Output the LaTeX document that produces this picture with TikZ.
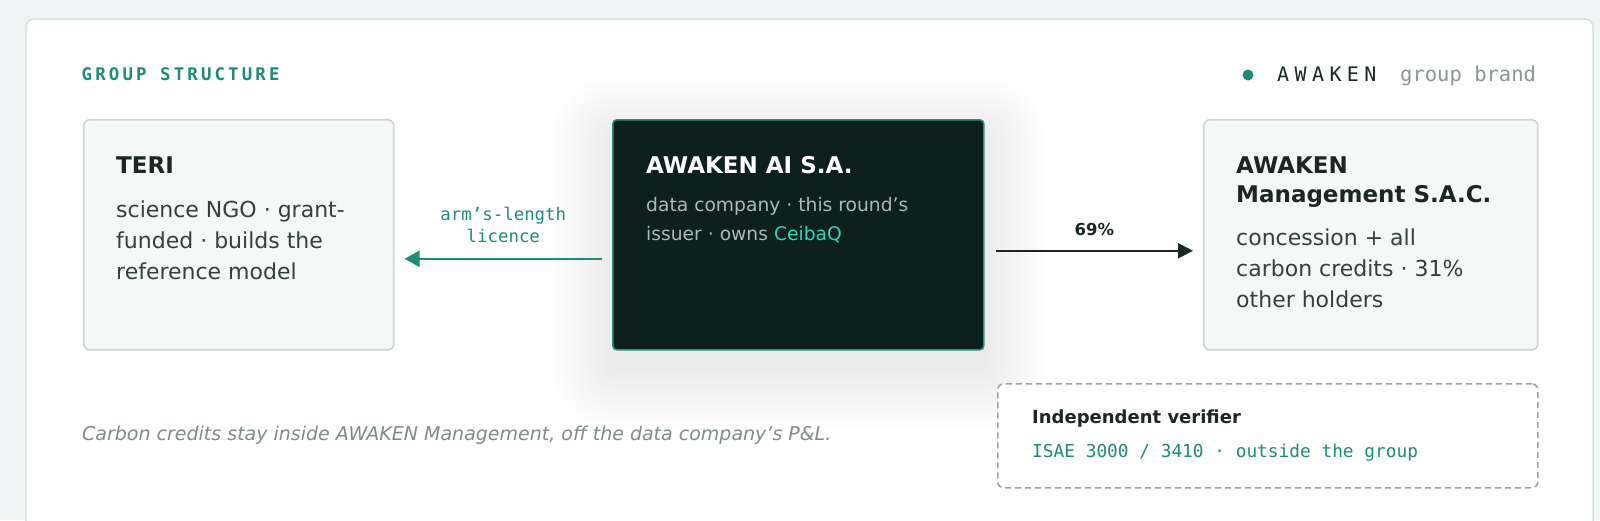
\documentclass[tikz,border=0pt]{standalone}
\usepackage{fontspec}
\setmainfont{DejaVu Sans}
\setmonofont{DejaVu Sans Mono}
\newfontfamily\headmono[LetterSpace=18]{DejaVu Sans Mono}
\newfontfamily\brandmono[LetterSpace=27]{DejaVu Sans Mono}
\usetikzlibrary{arrows.meta,positioning,calc,backgrounds}

\definecolor{pagebg}{HTML}{EFF5F4}
\definecolor{cardline}{HTML}{D7E0DE}
\definecolor{boxfill}{HTML}{F4F8F7}
\definecolor{boxline}{HTML}{CDD6D4}
\definecolor{corefill}{HTML}{0E201D}
\definecolor{coreline}{HTML}{2B8F7E}
\definecolor{grpteal}{HTML}{1F8A78}
\definecolor{inkdark}{HTML}{1B2725}
\definecolor{inkbody}{HTML}{33413E}
\definecolor{coresub}{HTML}{A7BCB7}
\definecolor{ceiba}{HTML}{2FD5B8}
\definecolor{mutegrey}{HTML}{8A9692}
\definecolor{capgrey}{HTML}{7D8C89}
\definecolor{dashgrey}{HTML}{A0A0A0}

\begin{document}
\begin{tikzpicture}[
    x=1pt, y=-1pt,
    card/.style={
        rectangle,
        draw=boxline,
        line width=1.6pt,
        fill=boxfill,
        rounded corners=6pt,
        anchor=north west,
        minimum height=230pt,
        inner sep=0pt
    },
    corecard/.style={
        card,
        draw=coreline,
        fill=corefill,
        rounded corners=4pt
    },
    verif/.style={
        card,
        draw=dashgrey,
        fill=white,
        dash pattern=on 6pt off 4pt,
        minimum height=104pt
    },
    title/.style={
        anchor=north west,
        inner sep=0pt,
        align=left,
        text=inkdark,
        font=\bfseries\fontsize{23}{28.5}\selectfont
    },
    body/.style={
        anchor=north west,
        inner sep=0pt,
        align=left,
        text=inkbody,
        font=\fontsize{22}{31}\selectfont
    },
    mono/.style={
        inner sep=0pt,
        text=grpteal,
        font=\ttfamily\fontsize{17.4}{22}\selectfont
    },
    pct/.style={
        inner sep=0pt,
        text=inkdark,
        font=\bfseries\fontsize{16.5}{20}\selectfont
    },
    licence/.style={
        draw=grpteal,
        line width=2.6pt,
        -{Triangle[length=15pt,width=16pt]}
    },
    owns/.style={
        draw=inkdark,
        line width=2.4pt,
        -{Triangle[length=15pt,width=15pt]}
    }
]
    \useasboundingbox (0,0) rectangle (1600,520);

    % Heading and brand key
    \node [anchor=base west, inner sep=0pt, text=grpteal, font=\headmono\bfseries\fontsize{17.4}{20}\selectfont] (heading) at (81.5,80) {GROUP STRUCTURE};
    \node [circle, fill=grpteal, minimum size=11pt, inner sep=0pt] (dot) at (1248,75) {};
    \node [anchor=base west, inner sep=0pt, text=inkdark, font=\brandmono\fontsize{20}{24}\selectfont] (brand) at (1277,81.5) {AWAKEN};
    \node [anchor=base west, inner sep=0pt, text=mutegrey, font=\ttfamily\fontsize{20.5}{24}\selectfont] (brand-note) at (1400,81.5) {group brand};

    % Entities
    \node [card, minimum width=310pt] (teri) at (83,119) {};
    \node [title, below right=34.4pt and 33pt of teri.north west] (teri-title) {\strut TERI};
    \node [body, below right=76.8pt and 33pt of teri.north west] (teri-body) {\strut science NGO · grant-\\funded · builds the\\reference model};

    \node [corecard, minimum width=371pt] (core) at (612,119) {};
    \node [title, text=white, below right=34.4pt and 34pt of core.north west] (core-title) {\strut AWAKEN AI S.A.};
    \node [body, text=coresub, font=\fontsize{18.7}{28.3}\selectfont, below right=72.9pt and 34pt of core.north west] (core-body) {\strut data company · this round’s\\issuer · owns \textcolor{ceiba}{CeibaQ}};

    \node [card, minimum width=334pt] (mgmt) at (1203,119) {};
    \node [title, below right=34.4pt and 33pt of mgmt.north west] (mgmt-title) {\strut AWAKEN\\Management S.A.C.};
    \node [body, below right=104.3pt and 33pt of mgmt.north west] (mgmt-body) {\strut concession + all\\carbon credits · 31\%\\other holders};

    % Verifier
    \node [verif, minimum width=540pt] (verif) at (997,383) {};
    \node [title, font=\bfseries\fontsize{18}{22}\selectfont, below right=24.9pt and 35pt of verif.north west] (verif-title) {\strut Independent verifier};
    \node [mono, font=\ttfamily\fontsize{17.8}{22}\selectfont, below right=58.9pt and 35pt of verif.north west] (verif-std) {\strut ISAE 3000 / 3410 · outside the group};

    % Edges
    \draw [licence] ([xshift=-10pt, yshift=-24pt]core.west) -- ([xshift=10pt, yshift=-24pt]teri.east)
        node [midway, above=15pt, mono, align=center] (licence-lbl) {arm’s-length\\licence};
    \draw [owns] ([xshift=11pt, yshift=-16pt]core.east) -- ([xshift=-10pt, yshift=-16pt]mgmt.west)
        node [midway, above=13.5pt, pct] (share-lbl) {69\%};

    % Note
    \node [anchor=base west, inner sep=0pt, text=capgrey, font=\itshape\fontsize{19}{22}\selectfont] (note) at (82,440) {Carbon credits stay inside AWAKEN Management, off the data company’s P\&L.};

    % Card and shadow
    \begin{pgfonlayer}{background}
        \fill [pagebg] (0,0) rectangle (1600,520);
        \draw [cardline, fill=white, line width=1.5pt, rounded corners=8pt] (26,19) rectangle (1593,560);
        \foreach \r in {3,6,...,60}
            \fill [black, opacity=0.0045, rounded corners=\r pt] ($(core.north west)+(-\r,-\r+18)$) rectangle ($(core.south east)+(\r,\r+18)$);
    \end{pgfonlayer}

\end{tikzpicture}
\end{document}
